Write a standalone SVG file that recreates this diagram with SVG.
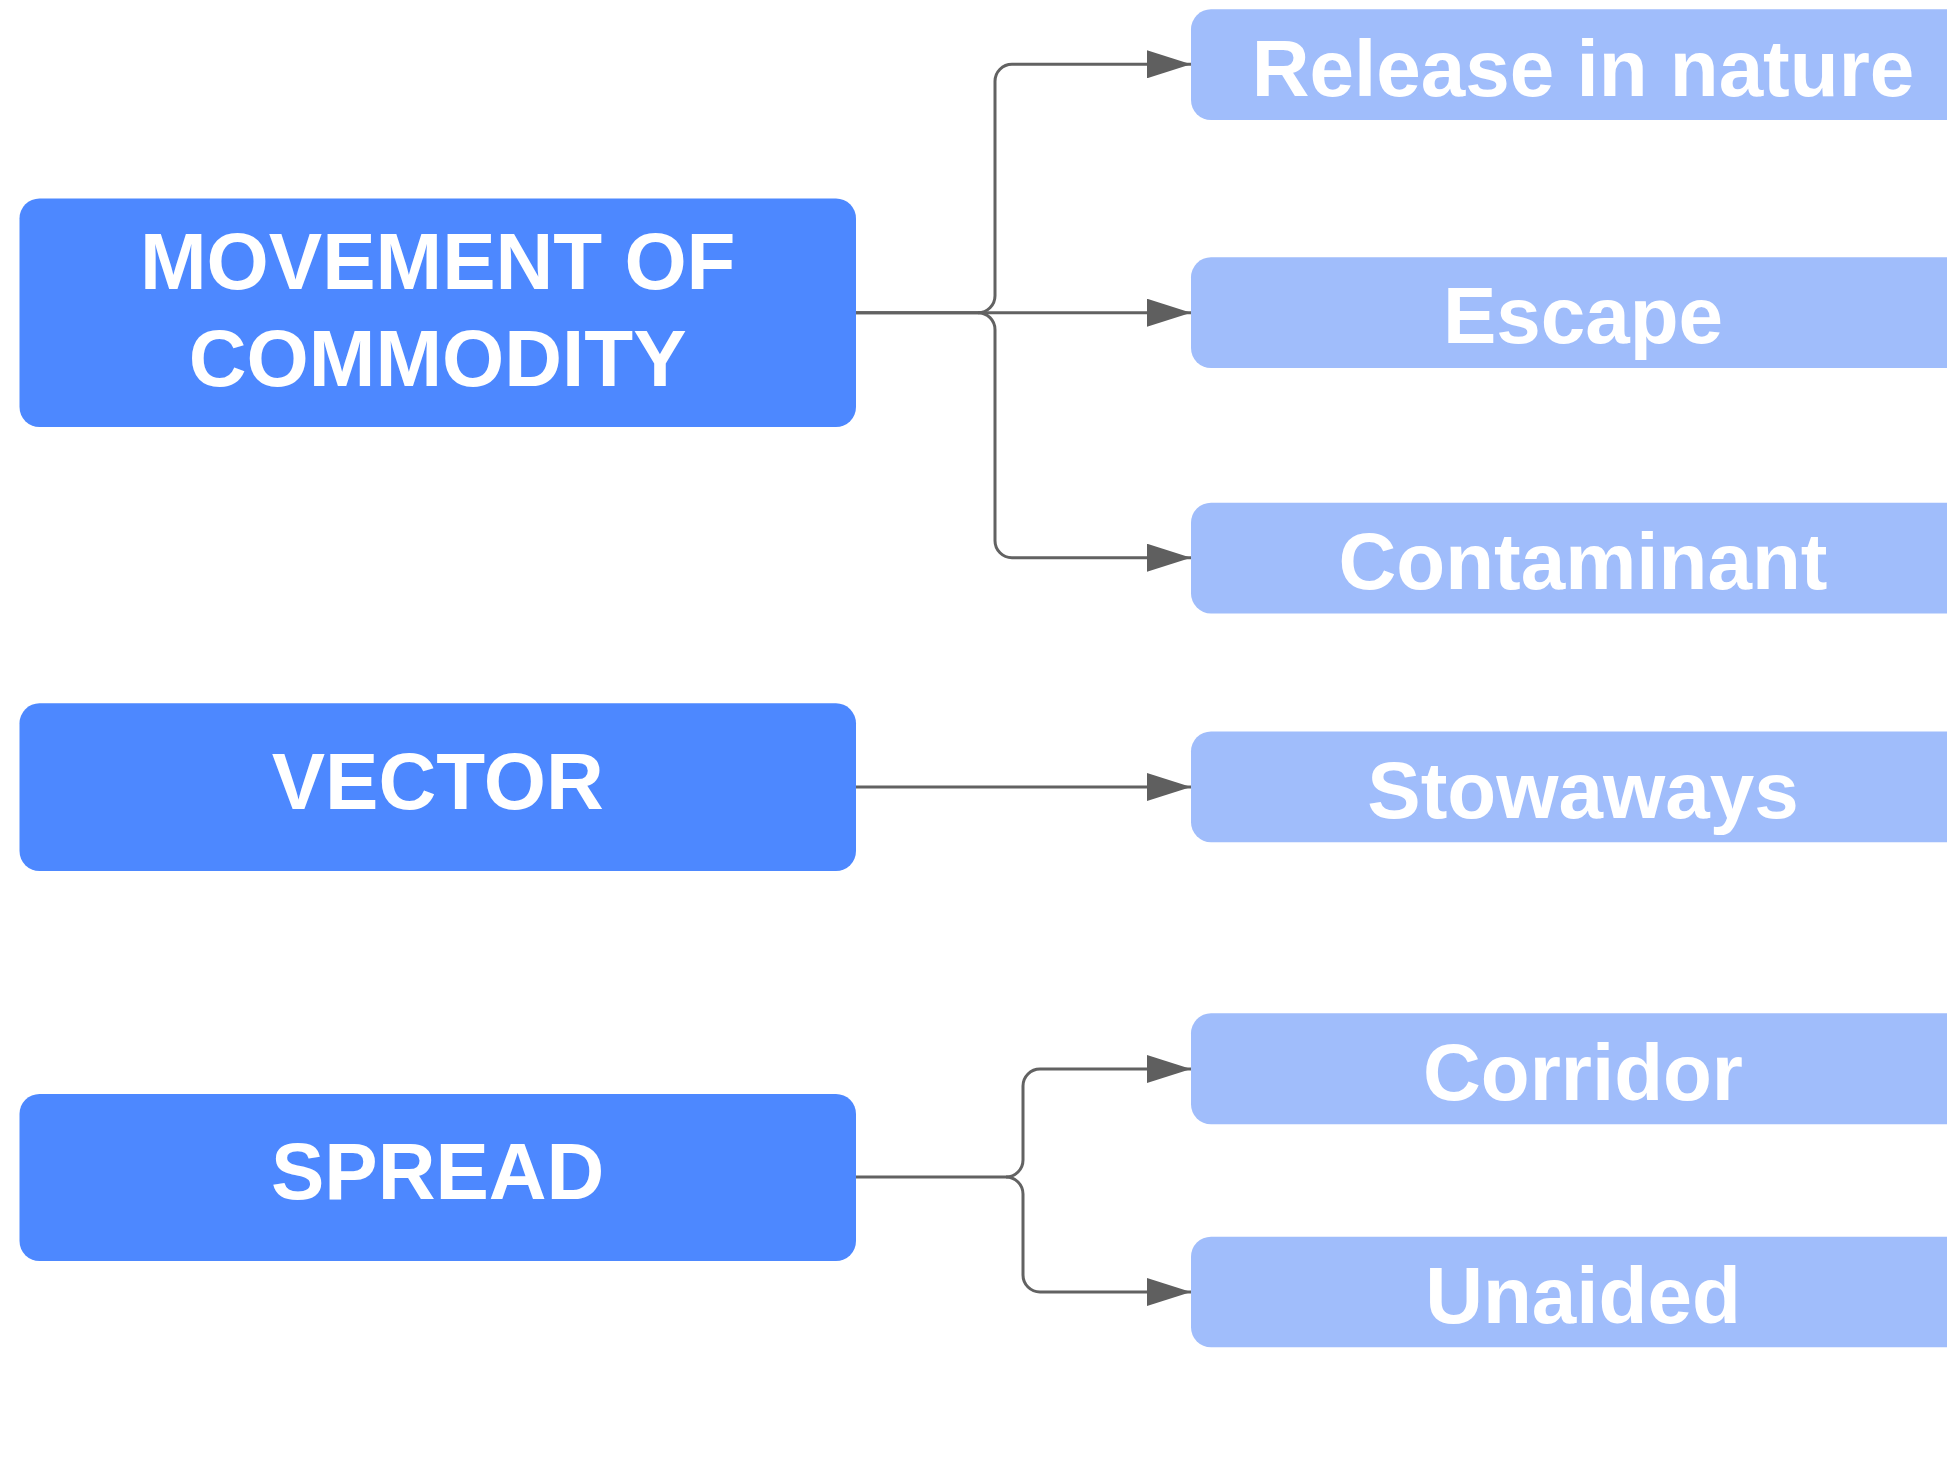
<svg xmlns="http://www.w3.org/2000/svg" width="1947" height="1458" viewBox="0 0 1947 1458">
<style>
  .main { fill: #4d88ff; }
  .sub { fill: #a0bdfb; }
  .t { font-family: "Liberation Sans", Arial, sans-serif; font-weight: bold; font-size: 80px; fill: #ffffff; text-anchor: middle; }
  .c { fill: none; stroke: #626262; stroke-width: 3; }
</style>
<defs>
  <marker id="arr" markerUnits="userSpaceOnUse" markerWidth="44" markerHeight="28" refX="44" refY="14" orient="auto" viewBox="0 0 44 28">
    <path d="M0,0 L44,14 L0,28 Z" fill="#5f5f5f"/>
  </marker>
</defs>
<rect width="1947" height="1458" fill="#ffffff"/>

<g id="connectors">
  <path class="c" d="M856,312.7 H978 A17,17 0 0 0 995,295.7 V81.3 A17,17 0 0 1 1012,64.3 H1191" marker-end="url(#arr)"/>
  <path class="c" d="M856,312.7 H1191" marker-end="url(#arr)"/>
  <path class="c" d="M978,312.7 A17,17 0 0 1 995,329.7 V540.7 A17,17 0 0 0 1012,557.7 H1191" marker-end="url(#arr)"/>
  <path class="c" d="M856,787 H1191" marker-end="url(#arr)"/>
  <path class="c" d="M856,1177 H1006 A17,17 0 0 0 1023,1160 V1086 A17,17 0 0 1 1040,1069 H1191" marker-end="url(#arr)"/>
  <path class="c" d="M1006,1177 A17,17 0 0 1 1023,1194 V1275 A17,17 0 0 0 1040,1292 H1191" marker-end="url(#arr)"/>
</g>

<g id="node-movement">
  <rect class="main" x="19.5" y="198.5" width="836.5" height="228.5" rx="20" ry="20"/>
  <text class="t" x="437.7" y="289">MOVEMENT OF</text>
  <text class="t" x="437.7" y="386">COMMODITY</text>
</g>
<g id="node-vector">
  <rect class="main" x="19.5" y="703.3" width="836.5" height="167.7" rx="20" ry="20"/>
  <text class="t" x="437.7" y="809">VECTOR</text>
</g>
<g id="node-spread">
  <rect class="main" x="19.5" y="1094" width="836.5" height="167" rx="20" ry="20"/>
  <text class="t" x="437.7" y="1199">SPREAD</text>
</g>

<g id="node-release">
  <rect class="sub" x="1191" y="9.3" width="784" height="110.7" rx="20" ry="20"/>
  <text class="t" x="1583" y="96">Release in nature</text>
</g>
<g id="node-escape">
  <rect class="sub" x="1191" y="257.3" width="784" height="110.7" rx="20" ry="20"/>
  <text class="t" x="1583" y="343">Escape</text>
</g>
<g id="node-contaminant">
  <rect class="sub" x="1191" y="502.7" width="784" height="110.7" rx="20" ry="20"/>
  <text class="t" x="1583" y="589">Contaminant</text>
</g>
<g id="node-stowaways">
  <rect class="sub" x="1191" y="731.5" width="784" height="110.7" rx="20" ry="20"/>
  <text class="t" x="1583" y="818">Stowaways</text>
</g>
<g id="node-corridor">
  <rect class="sub" x="1191" y="1013.3" width="784" height="111" rx="20" ry="20"/>
  <text class="t" x="1583" y="1100">Corridor</text>
</g>
<g id="node-unaided">
  <rect class="sub" x="1191" y="1236.7" width="784" height="110.6" rx="20" ry="20"/>
  <text class="t" x="1583" y="1323">Unaided</text>
</g>
</svg>
